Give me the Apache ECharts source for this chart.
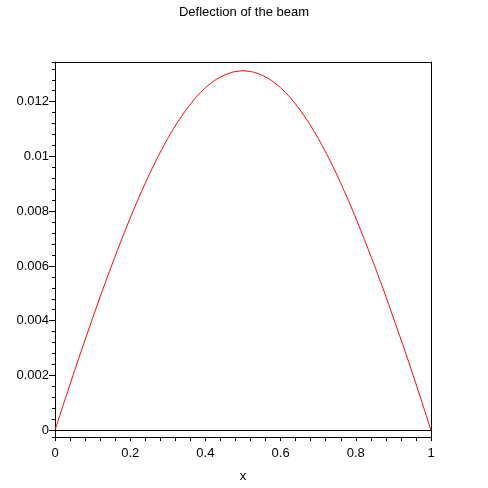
<!DOCTYPE html>
<html>
<head>
<meta charset="utf-8">
<script src="https://cdn.jsdelivr.net/npm/echarts@6/dist/echarts.min.js"></script>
<style>
  html, body { margin: 0; padding: 0; background: #fff; }
  #main { width: 488px; height: 488px; }
</style>
</head>
<body>
<div id="main"></div>
<script>
// beam position along x and the deflection
var xs = [0, 0.025, 0.05, 0.075, 0.1, 0.125, 0.15, 0.175, 0.2, 0.225, 0.25,
          0.275, 0.3, 0.325, 0.35, 0.375, 0.4, 0.425, 0.45, 0.475, 0.5,
          0.525, 0.55, 0.575, 0.6, 0.625, 0.65, 0.675, 0.7, 0.725, 0.75,
          0.775, 0.8, 0.825, 0.85, 0.875, 0.9, 0.925, 0.95, 0.975, 1];
var deflection = [0, 0.00105, 0.00209, 0.00310, 0.00409, 0.00506, 0.00599, 0.00689, 0.00775, 0.00856, 0.00932,
                  0.01002, 0.01066, 0.01123, 0.01173, 0.01216, 0.01251, 0.01278, 0.01297, 0.01309, 0.01313,
                  0.01309, 0.01297, 0.01278, 0.01251, 0.01216, 0.01173, 0.01123, 0.01066, 0.01002, 0.00932,
                  0.00856, 0.00775, 0.00689, 0.00600, 0.00508, 0.00410, 0.00312, 0.00211, 0.00106, 0];

// tick labels
var yLabels = [0, 0.002, 0.004, 0.006, 0.008, 0.01, 0.012];
var yMinorTicks = [-0.00025, 0.0004, 0.0008, 0.0012, 0.0016, 0.0024, 0.0028, 0.0032, 0.0036,
                   0.0044, 0.0048, 0.0052, 0.0056, 0.0064, 0.0068, 0.0072, 0.0076,
                   0.0084, 0.0088, 0.0092, 0.0096, 0.0104, 0.0108, 0.0112, 0.0116,
                   0.0124, 0.0128, 0.0132, 0.01345];
var xLabels = [0, 0.2, 0.4, 0.6, 0.8, 1];

var yMin = -0.00025, yMax = 0.01345;
var font = 'Liberation Sans, Arial, sans-serif';
var black = '#000';

var pts = [];
for (var i = 0; i < xs.length; i++) pts.push([xs[i], deflection[i]]);

var chart = echarts.init(document.getElementById('main'));
chart.setOption({
  animation: false,
  backgroundColor: '#fff',
  title: {
    text: 'Deflection of the beam',
    left: 'center',
    top: 1,
    textStyle: { fontFamily: font, fontSize: 13, fontWeight: 'normal', color: black }
  },
  grid: { left: 55, right: 57, top: 62, bottom: 49 },
  xAxis: [{
    type: 'value',
    min: 0, max: 1, interval: 0.2,
    position: 'bottom',
    name: 'x',
    nameLocation: 'middle',
    nameGap: 33,
    nameTextStyle: { fontFamily: font, fontSize: 13, color: black },
    axisLine: { onZero: false, lineStyle: { color: black, width: 1 } },
    axisTick: { length: 4, lineStyle: { color: black } },
    minorTick: { show: true, splitNumber: 5, length: 4, lineStyle: { color: black } },
    splitLine: { show: false },
    axisLabel: {
      customValues: xLabels,
      margin: 10,
      fontFamily: font, fontSize: 13, color: black
    }
  }, {
    type: 'value',
    min: 0, max: 1,
    position: 'top',
    axisLine: { onZero: false, lineStyle: { color: black, width: 1 } },
    axisTick: { show: false },
    axisLabel: { show: false },
    splitLine: { show: false }
  }],
  yAxis: [{
    type: 'value',
    min: yMin, max: yMax,
    position: 'left',
    axisLine: { onZero: false, lineStyle: { color: black, width: 1 } },
    axisTick: { customValues: yLabels, length: 6, lineStyle: { color: black } },
    axisLabel: {
      customValues: yLabels,
      margin: 6,
      fontFamily: font, fontSize: 13, color: black
    },
    splitLine: { show: false }
  }, {
    type: 'value',
    min: yMin, max: yMax,
    position: 'left',
    axisLine: { show: false },
    axisTick: { customValues: yMinorTicks, length: 3, lineStyle: { color: black } },
    axisLabel: { show: false },
    splitLine: { show: false }
  }, {
    type: 'value',
    min: yMin, max: yMax,
    position: 'right',
    axisLine: { onZero: false, lineStyle: { color: black, width: 1 } },
    axisTick: { show: false },
    axisLabel: { show: false },
    splitLine: { show: false }
  }],
  series: [{
    type: 'line',
    data: pts,
    smooth: 0.2,
    showSymbol: false,
    lineStyle: { color: '#ff0000', width: 1 },
    markLine: {
      silent: true,
      symbol: 'none',
      label: { show: false },
      lineStyle: { color: black, type: 'solid', width: 1 },
      data: [{ yAxis: 0 }]
    }
  }]
});
</script>
</body>
</html>
